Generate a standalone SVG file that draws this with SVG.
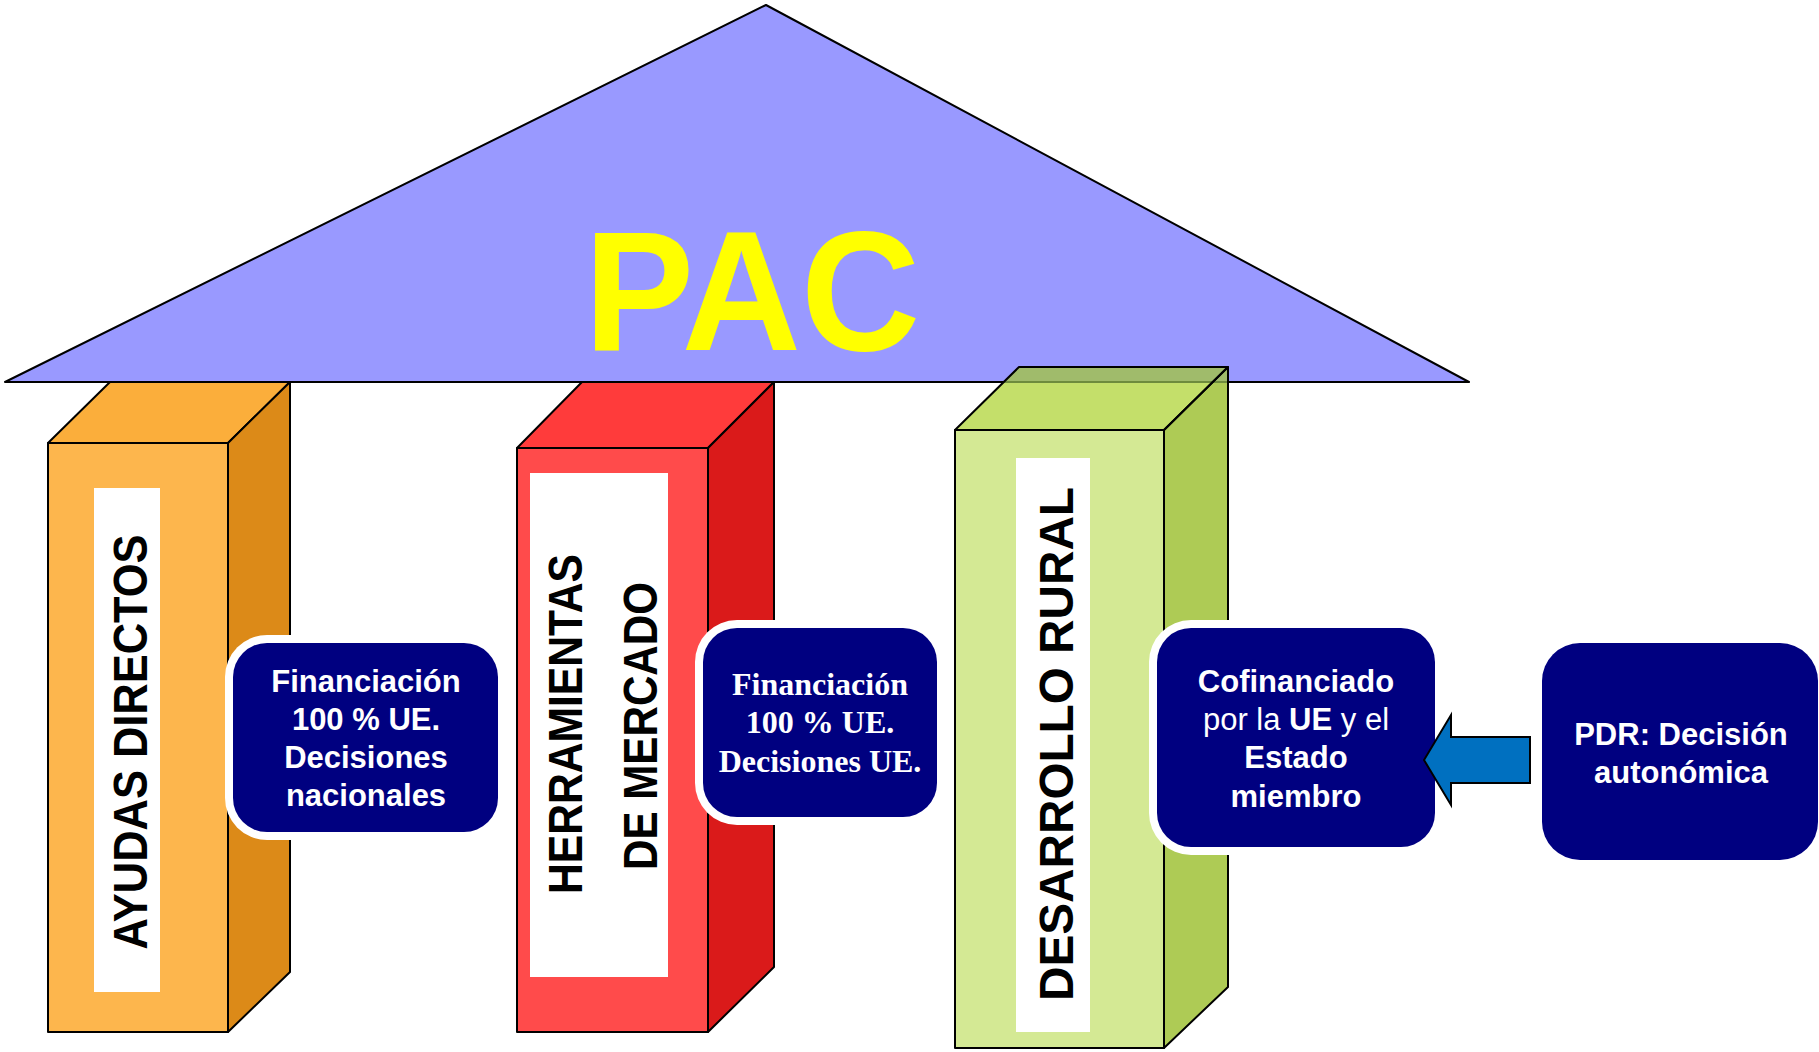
<svg xmlns="http://www.w3.org/2000/svg" width="1819" height="1052" viewBox="0 0 1819 1052">
<style>
.edge{stroke:#000;stroke-width:2;stroke-linejoin:round}
.label{fill:#fff}
.ptxt{font-family:"Liberation Sans",Arial,sans-serif;font-weight:bold;fill:#000;text-anchor:middle}
.box{fill:#000080}
.halo{fill:#fff}
.ctxt{font-family:"Liberation Sans",Arial,sans-serif;font-weight:bold;font-size:31px;fill:#fff;text-anchor:middle}
.stxt{font-family:"Liberation Serif","Times New Roman",serif;font-weight:bold;font-size:32px;fill:#fff;text-anchor:middle}
</style>
<rect width="1819" height="1052" fill="#fff"/>

<g id="roof">
<polygon points="766,5 1469,382 5,382" fill="#9999FF" class="edge"/>
<text font-family="Liberation Sans, Arial, sans-serif" font-weight="bold" font-size="165" fill="#FFFF00" text-anchor="middle" transform="translate(752,350) scale(1,1.04)">PAC</text>
</g>

<g id="pillar-ayudas">
<polygon points="48,443 110,382 290,382 228,443" fill="#FBAE3B" class="edge"/>
<polygon points="228,443 290,382 290,972 228,1032" fill="#DC8A18" class="edge"/>
<rect x="48" y="443" width="180" height="589" fill="#FDB64D" class="edge"/>
<rect x="94" y="488" width="66" height="504" class="label"/>
<text class="ptxt" font-size="48" textLength="415" lengthAdjust="spacingAndGlyphs" transform="translate(147,742) rotate(-90)">AYUDAS DIRECTOS</text>
</g>

<g id="pillar-herramientas">
<polygon points="517,448 582,382 774,382 708,448" fill="#FF3B3B" class="edge"/>
<polygon points="708,448 774,382 774,967 708,1032" fill="#DA1A1A" class="edge"/>
<rect x="517" y="448" width="191" height="584" fill="#FF4B4B" class="edge"/>
<rect x="530" y="473" width="138" height="504" class="label"/>
<text class="ptxt" font-size="48" textLength="340" lengthAdjust="spacingAndGlyphs" transform="translate(582,724) rotate(-90)">HERRAMIENTAS</text>
<text class="ptxt" font-size="48" textLength="288" lengthAdjust="spacingAndGlyphs" transform="translate(657,726) rotate(-90)">DE MERCADO</text>
</g>

<g id="pillar-desarrollo">
<polygon points="955,430 1019,367 1228,367 1164,430" fill="#C4DF6A"/>
<polygon points="1164,430 1228,367 1228,987 1164,1048" fill="#AECB55"/>
<polygon points="1003,382 1019,367 1228,367 1228,382" fill="#A0BB6B"/>
<line x1="1003" y1="382" x2="1228" y2="382" stroke="#6E8B3D" stroke-width="2"/>
<polygon points="955,430 1019,367 1228,367 1164,430" fill="none" class="edge"/>
<polygon points="1164,430 1228,367 1228,987 1164,1048" fill="none" class="edge"/>
<rect x="955" y="430" width="209" height="618" fill="#D4E994" class="edge"/>
<rect x="1016" y="458" width="74" height="574" class="label"/>
<text class="ptxt" font-size="48" textLength="514" lengthAdjust="spacingAndGlyphs" transform="translate(1073,744) rotate(-90)">DESARROLLO RURAL</text>
</g>

<g id="box-ayudas">
<rect x="225" y="635" width="281" height="205" rx="42" class="halo"/>
<rect x="233" y="643" width="265" height="189" rx="34" class="box"/>
<text class="ctxt"><tspan x="366" y="692">Financiación</tspan><tspan x="366" y="730">100 % UE.</tspan><tspan x="366" y="768">Decisiones</tspan><tspan x="366" y="806">nacionales</tspan></text>
</g>

<g id="box-herramientas">
<rect x="695" y="620" width="250" height="205" rx="42" class="halo"/>
<rect x="703" y="628" width="234" height="189" rx="34" class="box"/>
<text class="stxt"><tspan x="820" y="695">Financiación</tspan><tspan x="820" y="733">100 % UE.</tspan><tspan x="820" y="772">Decisiones UE.</tspan></text>
</g>

<g id="box-desarrollo">
<rect x="1149" y="620" width="294" height="235" rx="42" class="halo"/>
<rect x="1157" y="628" width="278" height="219" rx="34" class="box"/>
<text class="ctxt"><tspan x="1296" y="692">Cofinanciado</tspan><tspan x="1296" y="730"><tspan font-weight="normal">por la </tspan>UE<tspan font-weight="normal"> y el</tspan></tspan><tspan x="1296" y="768">Estado</tspan><tspan x="1296" y="807">miembro</tspan></text>
</g>

<g id="box-pdr">
<rect x="1542" y="643" width="276" height="217" rx="38" class="box"/>
<text class="ctxt"><tspan x="1681" y="745">PDR: Decisión</tspan><tspan x="1681" y="783">autonómica</tspan></text>
</g>

<g id="connectors">
<polygon points="1424,760 1451,715 1451,737 1530,737 1530,783 1451,783 1451,805" fill="#0070C0" stroke="#000" stroke-width="2" stroke-linejoin="miter"/>
</g>
</svg>
